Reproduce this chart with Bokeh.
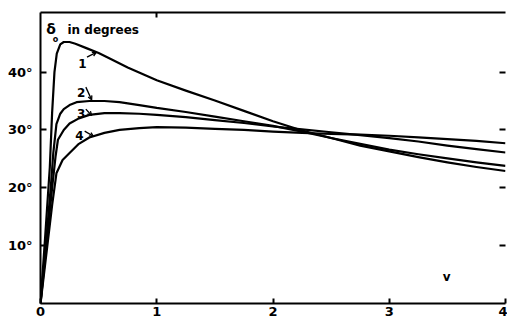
from bokeh.plotting import figure
from bokeh.models import Range1d, LinearAxis, FixedTicker, Arrow, OpenHead, Label
from bokeh.embed import file_html
from bokeh.resources import INLINE

# ---- data ----
x1 = [0, 0.04, 0.08, 0.10, 0.12, 0.14, 0.17, 0.20, 0.25, 0.30, 0.40, 0.50, 0.60, 0.75,
      1.0, 1.25, 1.5, 1.75, 2.0, 2.25, 2.5, 2.75, 3.0, 3.25, 3.5, 3.75, 4.0]
y1 = [0, 11.5, 23.5, 33.0, 40.0, 43.2, 44.8, 45.2, 45.2, 44.9, 44.1, 43.3, 42.3, 40.8,
      38.6, 36.8, 35.1, 33.3, 31.5, 29.9, 28.6, 27.3, 26.3, 25.3, 24.4, 23.6, 22.9]

x2 = [0, 0.05, 0.09, 0.11, 0.137, 0.17, 0.20, 0.25, 0.31, 0.42, 0.55, 0.68, 0.85,
      1.0, 1.25, 1.5, 1.75, 2.0, 2.25, 2.5, 2.75, 3.0, 3.25, 3.5, 3.75, 4.0]
y2 = [0, 11.0, 20.5, 26.0, 31.0, 32.8, 33.6, 34.3, 34.8, 35.0, 35.0, 34.8, 34.3,
      33.8, 33.1, 32.3, 31.5, 30.7, 29.7, 28.6, 27.6, 26.6, 25.8, 25.1, 24.4, 23.8]

x3 = [0, 0.05, 0.10, 0.13, 0.15, 0.20, 0.25, 0.33, 0.42, 0.55, 0.68, 0.85,
      1.0, 1.25, 1.5, 1.75, 2.0, 2.25, 2.5, 2.75, 3.0, 3.25, 3.5, 3.75, 4.0]
y3 = [0, 10.0, 20.0, 25.5, 28.3, 30.0, 31.1, 32.0, 32.6, 32.9, 32.9, 32.8,
      32.6, 32.2, 31.7, 31.2, 30.6, 30.1, 29.6, 29.1, 28.6, 28.0, 27.3, 26.7, 26.1]

x4 = [0, 0.05, 0.10, 0.137, 0.19, 0.25, 0.33, 0.42, 0.55, 0.68, 0.85,
      1.0, 1.25, 1.5, 1.75, 2.0, 2.25, 2.5, 2.75, 3.0, 3.25, 3.5, 3.75, 4.0]
y4 = [0, 8.5, 17.0, 22.5, 24.8, 26.0, 27.6, 28.7, 29.5, 30.0, 30.3,
      30.5, 30.4, 30.2, 30.0, 29.7, 29.5, 29.3, 29.2, 29.0, 28.7, 28.4, 28.1, 27.7]

curve_names = ["1", "2", "3", "4"]
x_ticks = [0, 1, 2, 3, 4]
x_tick_labels = ["0", "1", "2", "3", "4"]
y_ticks = [10, 20, 30, 40]
y_tick_labels = ["10°", "20°", "30°", "40°"]

FONT = "DejaVu Sans"

p = figure(width=507, height=320, x_range=Range1d(0, 4.0), y_range=Range1d(0, 50.3),
           x_axis_type=None, y_axis_type=None,
           output_backend="svg", toolbar_location=None,
           min_border_left=40, min_border_right=2, min_border_top=12, min_border_bottom=17)
p.grid.visible = False
p.outline_line_color = None
p.background_fill_color = "white"
p.border_fill_color = "white"

def style_axis(ax, labels=True):
    ax.axis_line_color = "black"
    ax.axis_line_width = 2
    ax.major_tick_line_color = "black"
    ax.major_tick_line_width = 2
    ax.major_tick_in = 6
    ax.major_tick_out = 0
    ax.minor_tick_line_color = None
    ax.major_label_text_font = FONT
    ax.major_label_text_font_style = "bold"
    ax.major_label_text_font_size = "13px"
    ax.major_label_text_color = "black"
    if not labels:
        ax.major_label_text_color = None
        ax.major_label_text_alpha = 0
        ax.major_label_text_font_size = "1px"
        ax.major_label_standoff = 0

xb = LinearAxis(ticker=FixedTicker(ticks=x_ticks))
style_axis(xb)
xb.major_tick_in = 5
xb.major_label_standoff = 3
xb.major_label_overrides = {t: l for t, l in zip(x_ticks, x_tick_labels)}
p.add_layout(xb, "below")

yl = LinearAxis(ticker=FixedTicker(ticks=y_ticks))
style_axis(yl)
yl.major_label_standoff = 8
yl.major_label_overrides = {t: l for t, l in zip(y_ticks, y_tick_labels)}
p.add_layout(yl, "left")

xt = LinearAxis(ticker=FixedTicker(ticks=[1]))
style_axis(xt, labels=False)
xt.major_tick_in = 5
p.add_layout(xt, "above")

yr = LinearAxis(ticker=FixedTicker(ticks=y_ticks))
style_axis(yr, labels=False)
yr.axis_line_color = None
p.add_layout(yr, "right")

for xs, ys in [(x1, y1), (x2, y2), (x3, y3), (x4, y4)]:
    p.line(xs, ys, line_color="black", line_width=2.2, line_join="round")

# curve labels with leader arrows
label_pos = [(0.36, 41.4), (0.35, 36.4), (0.35, 32.8), (0.335, 29.0)]
arrow_from = [(0.40, 42.6), (0.39, 37.4), (0.39, 33.6), (0.38, 29.8)]
arrow_to = [(0.48, 43.4), (0.44, 35.2), (0.44, 32.5), (0.455, 28.9)]
for name, (lx, ly), (ax0, ay0), (ax1, ay1) in zip(curve_names, label_pos, arrow_from, arrow_to):
    p.add_layout(Label(x=lx, y=ly, text=name, text_font=FONT, text_font_style="bold",
                       text_font_size="12px", text_align="center", text_baseline="alphabetic",
                       text_color="black"))
    p.add_layout(Arrow(x_start=ax0, y_start=ay0, x_end=ax1, y_end=ay1, line_width=1.3,
                       line_color="black",
                       end=OpenHead(size=4, line_width=1.3, line_color="black")))

p.add_layout(Label(x=0.05, y=46.0, text="δ", text_font=FONT, text_font_size="14px",
                   text_font_style="bold", text_color="black"))
p.add_layout(Label(x=0.105, y=44.9, text="o", text_font=FONT, text_font_size="8px",
                   text_font_style="bold", text_color="black"))
p.add_layout(Label(x=0.232, y=46.0, text="in  degrees", text_font=FONT, text_font_size="12px",
                   text_font_style="bold", text_color="black"))
p.add_layout(Label(x=3.493, y=3.4, text="v", text_font=FONT, text_font_size="12px",
                   text_font_style="bold", text_align="center", text_color="black"))

open("out.html", "w").write(file_html(p, INLINE))
